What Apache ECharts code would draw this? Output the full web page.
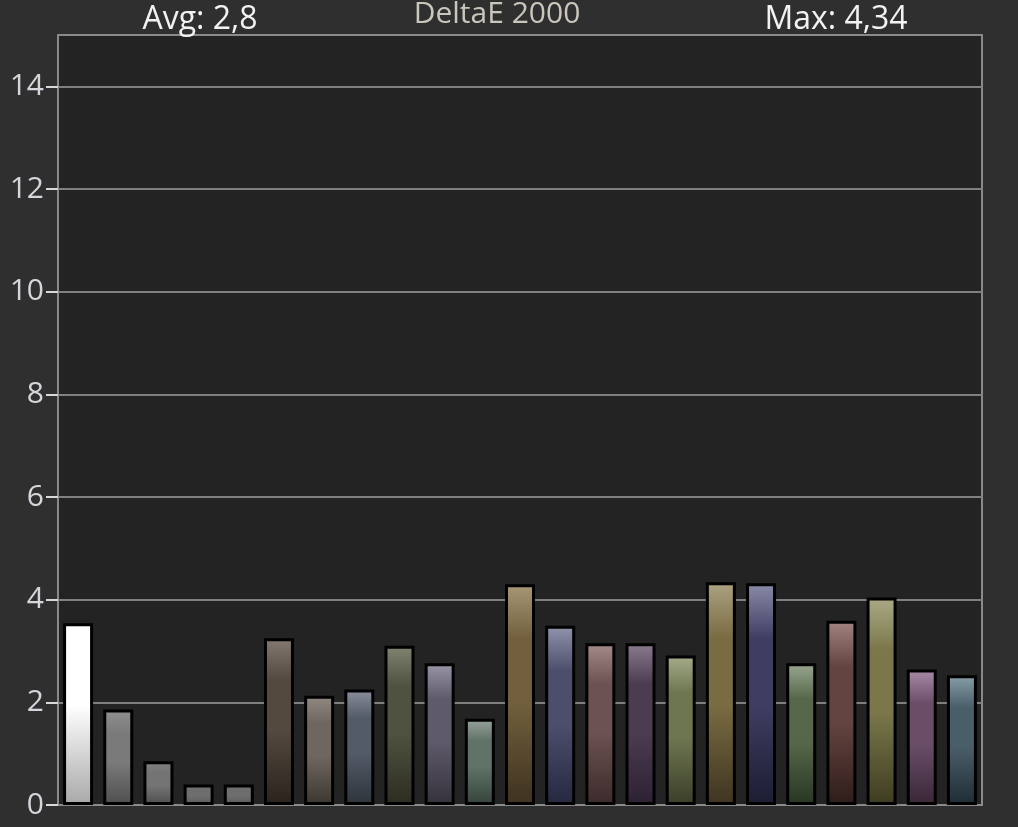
<!DOCTYPE html>
<html><head><meta charset="utf-8">
<script src="https://cdn.jsdelivr.net/npm/echarts@6/dist/echarts.min.js"></script>
<style>html,body{margin:0;padding:0;background:#2f2f2f;}#c{width:1018px;height:827px;}</style>
</head><body><div id="c"></div>
<script>
const categories = ['1','2','3','4','5','6','7','8','9','10','11','12','13','14','15','16','17','18','19','20','21','22','23'];
const deltaE = [3.54,1.86,0.85,0.40,0.40,3.25,2.13,2.25,3.10,2.76,1.68,4.30,3.49,3.15,3.15,2.91,4.34,4.32,2.76,3.59,4.04,2.64,2.53];
const yTicks = [0,2,4,6,8,10,12,14];
const titleText = 'DeltaE 2000';
const avgText = 'Avg: 2,8';
const maxText = 'Max: 4,34';
const barTop = ['#ffffff','#909090','#808080','#747474','#747474','#857a72','#938a82','#8a909c','#828472','#9a96a8','#98a69e','#a89878','#9294ac','#a48c8a','#8c7c90','#a6ac8a','#aca282','#8a8aa8','#9aa890','#a48480','#acaa86','#a88ca8','#88a0aa'];
const barMid = ['#ffffff','#7a7a7a','#747474','#6e6e6e','#6e6e6e','#54493f','#6f675f','#535b67','#4f5240','#5e5a6a','#617369','#705e3c','#4c4e6c','#6c5252','#4c3c52','#6e7650','#7a6c42','#3e3e62','#57684a','#644440','#7a784a','#6a4e68','#4a5e6a'];
const barBottom = ['#a8a8a8','#4e4e4e','#4e4e4e','#5a5a5a','#5a5a5a','#2a221c','#3c3630','#2e333b','#2c2c20','#35313c','#33433a','#3e321f','#262840','#3c2a2a','#2c2132','#3a3e28','#3e3420','#1c1c32','#283622','#2e1c1a','#3e3c20','#382636','#1e2c34'];

const font = "'Open Sans', 'Noto Sans', sans-serif";
const chart = echarts.init(document.getElementById('c'), null, {renderer: 'canvas'});

const seriesData = deltaE.map((v, i) => ({
  value: v,
  itemStyle: {
    color: new echarts.graphic.LinearGradient(0, 0, 0, 1, i === 0 ? [
      {offset: 0, color: barTop[i]}, {offset: 0.45, color: barMid[i]}, {offset: 1, color: barBottom[i]}
    ] : [
      {offset: 0, color: barTop[i]}, {offset: 0.25, color: barMid[i]}, {offset: 0.55, color: barMid[i]}, {offset: 1, color: barBottom[i]}
    ])
  }
}));

chart.setOption({
  backgroundColor: '#2f2f2f',
  animation: false,
  grid: {left: 58, right: 36, top: 35, bottom: 22, show: true, backgroundColor: '#232323', borderColor: '#8a8a8a', borderWidth: 2},
  graphic: [
    {type: 'text', x: 497, y: 14, style: {text: titleText, fill: '#cac6bc', font: '30px ' + font, textAlign: 'center', textVerticalAlign: 'middle'}},
    {type: 'text', x: 200, y: 20, style: {text: avgText, fill: '#f2f2f2', font: '32px ' + font, textAlign: 'center', textVerticalAlign: 'middle'}},
    {type: 'text', x: 836, y: 20, style: {text: maxText, fill: '#f2f2f2', font: '32px ' + font, textAlign: 'center', textVerticalAlign: 'middle'}}
  ],
  xAxis: {
    type: 'category', data: categories,
    axisLine: {show: true, lineStyle: {color: '#8a8a8a', width: 2}},
    axisTick: {show: false}, axisLabel: {show: false}, splitLine: {show: false}
  },
  yAxis: {
    type: 'value', min: 0, max: 15, interval: 2,
    axisLine: {show: true, lineStyle: {color: '#8a8a8a', width: 2}},
    axisTick: {show: true, length: 12, customValues: yTicks, lineStyle: {color: '#d8d8d8', width: 2}},
    axisLabel: {customValues: yTicks, fontSize: 30, color: '#d4d6dc', margin: 14, fontFamily: font},
    splitLine: {show: true, lineStyle: {color: '#808080', width: 2}}
  },
  series: [{
    type: 'bar', data: seriesData, barWidth: 30,
    itemStyle: {borderColor: '#000000', borderWidth: 3}
  }]
});
</script></body></html>
